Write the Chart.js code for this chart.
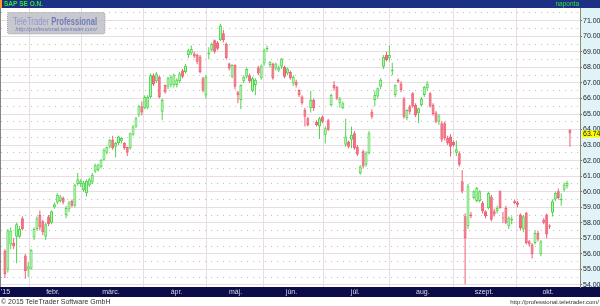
<!DOCTYPE html>
<html><head><meta charset="utf-8">
<script src="https://cdn.jsdelivr.net/npm/chart.js@4.4.1/dist/chart.umd.min.js"></script>
<style>html,body{margin:0;padding:0;background:#fff;overflow:hidden}canvas{display:block}</style>
</head><body>
<canvas id="c" width="600" height="306"></canvas>
<script>
// ---- data (trading-day index since 2 Jan 2015) ----
const firstDay = 4;
const open  = [56.20,55.00,56.60,56.70,57.10,57.10,58.30,55.90,55.00,55.05,57.05,57.60,58.50,58.10,57.10,58.40,58.00,
59.00,59.30,59.40,59.60,58.50,58.85,59.40,59.10,60.50,60.50,60.10,59.90,60.40,60.60,61.30,61.40,61.60,62.06,62.50,62.90,
63.34,62.90,63.13,63.25,63.13,62.87,62.80,63.66,64.20,64.95,65.50,65.37,65.40,66.10,67.50,67.10,67.40,65.15,66.86,66.75,66.85,
66.85,66.86,67.10,67.80,67.70,68.80,68.90,68.90,68.80,68.70,67.30,66.20,68.85,69.10,69.75,69.60,69.75,70.20,69.50,68.25,
67.40,68.15,66.40,65.90,67.10,67.40,67.50,66.50,66.86,68.00,67.30,68.25,69.15,68.15,68.25,67.93,67.80,68.04,68.04,67.60,
67.70,66.97,67.08,66.54,66.12,65.26,64.73,65.37,65.90,64.50,64.20,64.83,63.66,64.60,65.58,66.86,66.76,65.69,65.37,63.02,63.23,63.34,
63.77,62.90,61.20,62.60,61.74,62.48,65.15,65.90,66.12,66.76,68.04,68.80,68.57,67.75,66.22,67.20,66.97,66.00,64.73,65.50,66.33,65.58,65.05,65.58,
66.22,66.65,66.33,65.60,65.10,64.50,64.40,64.40,63.45,63.55,63.20,62.50,62.48,60.67,58.42,57.78,58.53,59.60,59.40,59.40,59.28,
58.74,58.96,59.70,58.74,58.74,60.03,58.35,58.96,57.78,58.15,59.38,59.30,58.53,57.57,58.64,56.82,56.60,56.70,57.35,55.97,58.20,58.53,
57.82,58.64,59.50,60.03,59.45,60.13,60.35,63.98];
const high  = [56.30,57.60,57.70,57.00,58.00,57.80,58.40,56.00,55.50,56.30,57.70,58.40,58.80,58.20,58.00,58.50,58.80,
59.30,59.90,59.80,59.70,59.10,59.40,59.50,60.50,61.20,60.80,60.70,60.80,60.90,61.20,61.80,61.80,62.10,62.80,62.90,63.40,
63.60,63.20,63.60,63.50,63.20,62.90,63.80,64.30,64.80,65.60,65.80,66.20,66.20,67.60,67.60,67.70,67.50,66.00,66.90,67.40,67.50,
67.60,67.30,67.70,67.90,68.20,69.20,69.40,69.00,68.90,68.80,67.40,67.50,69.30,69.60,69.80,69.70,70.80,70.40,69.60,68.30,
68.20,68.20,66.50,66.90,67.50,68.00,67.60,67.40,67.30,68.10,68.20,69.20,69.40,68.40,68.30,68.30,68.10,68.60,68.10,68.00,
67.80,67.50,67.20,66.60,66.20,65.40,64.80,66.50,66.00,64.60,64.80,64.90,64.20,64.70,66.30,67.10,66.80,66.10,65.80,64.70,63.30,64.20,
63.90,63.00,61.70,62.70,62.60,63.90,65.30,66.50,66.70,67.30,68.80,69.00,69.43,68.30,66.90,67.30,67.10,66.10,65.30,65.60,66.40,65.70,65.40,66.10,
66.80,67.10,66.40,65.70,65.20,65.00,64.55,64.50,63.60,63.70,63.30,63.30,62.60,61.40,58.60,60.50,58.70,60.10,60.30,60.10,59.40,
58.80,60.00,59.80,58.90,59.10,60.10,58.70,59.10,58.40,58.40,59.50,59.40,58.60,58.50,58.70,56.90,56.70,57.50,57.50,56.90,58.30,58.60,
57.90,59.50,60.00,60.20,59.90,60.60,60.70,64.00];
const low   = [54.45,54.80,56.30,56.30,55.40,57.00,57.50,54.40,54.50,55.00,56.90,57.50,57.50,57.20,56.90,57.80,57.90,
58.90,59.20,59.30,59.20,58.30,58.70,59.00,59.00,60.40,60.30,60.00,59.70,60.30,60.50,61.20,61.30,61.50,62.00,62.40,62.80,
62.70,62.20,63.00,63.10,62.70,62.30,62.70,63.60,64.10,64.80,64.90,65.30,65.30,66.00,66.80,67.00,66.00,64.60,66.30,66.60,66.70,
66.70,66.70,67.00,67.30,67.60,68.60,68.80,68.60,68.20,67.60,66.40,66.00,68.50,69.00,68.90,69.10,69.70,69.60,68.50,67.80,
67.30,66.60,65.70,65.30,67.00,67.30,67.00,66.40,66.20,67.50,67.20,68.10,69.00,68.00,67.20,67.80,67.70,67.90,67.30,67.50,
67.20,66.80,66.70,66.10,65.60,64.20,64.20,65.10,65.20,64.20,63.40,64.40,63.10,63.90,65.50,66.50,65.90,65.40,65.30,62.90,62.80,62.80,
62.70,62.30,61.10,61.50,61.60,62.40,64.70,65.50,66.00,66.60,67.90,68.40,68.40,67.50,66.10,67.00,66.40,64.70,64.60,65.00,65.40,64.80,64.40,65.50,
66.10,66.50,65.40,64.90,64.40,64.30,63.20,63.30,63.00,62.27,62.90,62.30,61.60,59.90,54.04,57.60,58.30,59.50,59.30,59.30,58.60,
58.30,58.85,58.10,58.40,58.60,58.90,58.00,57.90,57.60,57.90,59.20,59.00,57.50,57.40,56.60,56.50,55.70,56.60,56.80,55.85,57.90,57.00,
57.60,58.40,59.40,59.50,59.10,60.00,60.20,62.90];
const close = [54.70,57.50,57.50,56.50,57.90,57.60,57.60,54.90,55.20,56.25,57.60,58.30,57.70,57.40,57.90,57.90,58.75,
59.20,59.80,59.70,59.30,58.96,59.30,59.10,60.45,60.78,60.70,60.60,60.70,60.80,61.10,61.70,61.75,62.06,62.70,62.87,63.34,
62.80,63.13,63.56,63.45,62.80,62.50,63.77,64.20,64.73,65.50,65.10,66.10,66.10,67.50,66.90,67.60,66.10,65.90,66.40,67.30,67.40,
67.50,67.20,67.60,67.40,68.10,69.10,69.20,68.70,68.36,67.70,66.50,67.40,68.95,69.50,69.00,69.20,70.70,69.75,68.60,67.93,
68.15,66.75,66.20,66.86,67.40,67.90,67.10,67.30,67.20,67.60,68.10,69.10,69.25,68.36,67.30,68.25,68.00,68.57,67.40,67.93,
67.30,67.40,66.86,66.22,65.69,64.83,64.30,65.90,65.37,64.30,64.73,64.50,64.09,63.98,66.22,66.65,66.00,66.00,65.69,63.55,62.90,63.66,
62.80,62.40,61.63,61.63,62.48,63.77,64.83,66.22,66.65,67.20,68.68,68.47,68.80,67.85,66.86,67.08,66.54,64.83,65.26,65.15,65.48,64.94,65.37,66.00,
66.76,66.97,65.48,65.00,64.50,64.90,63.34,63.45,63.10,62.90,63.00,62.74,61.74,60.03,57.03,60.35,58.42,60.03,60.24,60.03,58.74,
58.42,59.92,58.20,58.53,58.96,58.96,58.28,58.00,58.32,58.25,59.28,59.17,57.67,58.42,56.70,56.60,55.97,57.35,56.93,56.82,58.00,57.25,
57.74,59.38,59.92,59.60,59.55,60.45,60.56,63.74];
const days = open.map((_, k) => firstDay + k);

// axis ticks / labels
const monthTicks  = [4.22, 20.5, 40.4, 62.9, 83.2, 102.4, 124.3, 147.5, 168.5, 190.5];
const monthLabels = ["'15", "febr.", "márc.", "ápr.", "máj.", "jún.", "júl.", "aug.", "szept.", "okt."];
const priceTicks  = [54,55,56,57,58,59,60,61,62,63,64,65,66,67,68,69,70,71];
const halfTicks   = [54.5,55.5,56.5,57.5,58.5,59.5,60.5,61.5,62.5,63.5,64.5,65.5,66.5,67.5,68.5,69.5,70.5,71.5];

const xMin = 2.68, xMax = 201.45, yMin = 53.871, yMax = 71.82;

const UP_LINE = '#4fd64f', UP_FILL = '#bdf2b6';
const DN_LINE = '#ee5f72', DN_FILL = '#f27485';
const isUp = k => close[k] >= open[k];

const decor = {
  id: 'decor',
  beforeDraw(chart) {
    const { ctx, chartArea: a } = chart;
    ctx.save();
    ctx.fillStyle = '#ffffff'; ctx.fillRect(0, 0, 600, 306);
    ctx.fillStyle = '#dff3f9'; ctx.fillRect(a.right, a.top, 600 - a.right, a.bottom - a.top);
    ctx.fillStyle = '#0c0c48'; ctx.fillRect(0, a.bottom, 600, 10);
    ctx.fillStyle = '#1c3184'; ctx.fillRect(0, 0, 600, a.top);
    ctx.fillStyle = '#ff9a1a'; ctx.fillRect(0, 0, 2, a.top);
    ctx.restore();
  },
  beforeDatasetsDraw(chart) {
    const { ctx } = chart;
    ctx.save();
    ctx.fillStyle = 'rgba(190,190,198,0.85)';
    ctx.beginPath();
    ctx.roundRect ? ctx.roundRect(7.5, 12.5, 97.5, 21.5, 2) : ctx.rect(7.5, 12.5, 97.5, 21.5);
    ctx.fill();
    ctx.strokeStyle = 'rgba(150,150,160,0.8)'; ctx.setLineDash([1, 1]); ctx.lineWidth = 1; ctx.stroke();
    ctx.setLineDash([]);
    // title text, squeezed to width
    const t1 = 'TeleTrader ', t2 = 'Professional';
    ctx.textBaseline = 'alphabetic';
    ctx.font = '10px "Liberation Sans"';
    const w1 = ctx.measureText(t1).width;
    ctx.font = 'bold 10px "Liberation Sans"';
    const w2 = ctx.measureText(t2).width;
    const sx = 84 / (w1 + w2);
    ctx.translate(13, 24.5); ctx.scale(sx, 1);
    ctx.font = '10px "Liberation Sans"'; ctx.fillStyle = '#8c9acb'; ctx.fillText(t1, 0, 0);
    ctx.font = 'bold 10px "Liberation Sans"'; ctx.fillStyle = '#6e7cba'; ctx.fillText(t2, w1, 0);
    ctx.setTransform(1, 0, 0, 1, 0, 0);
    ctx.font = 'italic 5.5px "Liberation Sans"'; ctx.fillStyle = '#6f7db8';
    ctx.textAlign = 'right'; ctx.fillText('http://professional.teletrader.com/', 97, 30.5);
    ctx.restore();
  },
  afterDraw(chart) {
    const { ctx, chartArea: a } = chart;
    ctx.save();
    // left border
    ctx.strokeStyle = '#858585'; ctx.lineWidth = 1;
    ctx.beginPath(); ctx.moveTo(0.5, a.top); ctx.lineTo(0.5, a.bottom); ctx.stroke();
    // header texts
    ctx.textBaseline = 'middle';
    ctx.font = 'bold 6.5px "Liberation Sans"'; ctx.fillStyle = '#31e431';
    ctx.textAlign = 'left'; ctx.fillText('SAP SE O.N.', 4, a.top / 2 + 0.5);
    ctx.font = '6.5px "Liberation Sans"';
    ctx.textAlign = 'right'; ctx.fillText('naponta', 579, a.top / 2 + 0.5);
    // last price tag
    const yS = chart.scales.y;
    const last = close[close.length - 1];
    const py = Math.round(yS.getPixelForValue(last));
    ctx.fillStyle = '#ffff00'; ctx.fillRect(a.right + 2, py - 3.5, 600 - a.right - 2, 7);
    ctx.fillStyle = '#111'; ctx.font = '7px "Liberation Sans"'; ctx.textAlign = 'left';
    ctx.fillText(last.toFixed(2), a.right + 3, py + 0.5);
    // footer
    ctx.fillStyle = '#333333'; ctx.font = '7px "Liberation Sans"'; ctx.textAlign = 'left';
    ctx.fillText('© 2015 TeleTrader Software GmbH', 1, 302);
    ctx.font = '6px "Liberation Sans"'; ctx.textAlign = 'right';
    ctx.fillText('http://professional.teletrader.com/', 599, 302);
    ctx.restore();
  }
};

new Chart(document.getElementById('c'), {
  type: 'bar',
  data: {
    datasets: [
      {
        label: 'wick',
        data: days.map((d, k) => ({ x: d, y: [low[k], high[k]] })),
        backgroundColor: c => isUp(c.dataIndex) ? UP_LINE : DN_LINE,
        borderWidth: 0, barThickness: 1, grouped: false, order: 2, inflateAmount: 0
      },
      {
        label: 'body',
        data: days.map((d, k) => ({ x: d, y: [open[k], close[k]] })),
        backgroundColor: c => isUp(c.dataIndex) ? UP_FILL : DN_FILL,
        borderColor: c => isUp(c.dataIndex) ? UP_LINE : DN_LINE,
        borderWidth: 1, borderSkipped: false, barThickness: 3, minBarLength: 1,
        grouped: false, order: 1, inflateAmount: 0
      }
    ]
  },
  options: {
    responsive: false, animation: false, events: [],
    layout: { padding: { top: 8, bottom: 9, left: 0, right: 0 } },
    plugins: { legend: { display: false }, tooltip: { enabled: false }, title: { display: false } },
    scales: {
      x: {
        type: 'linear', min: xMin, max: xMax, offset: false, position: 'bottom',
        afterBuildTicks: s => { s.ticks = monthTicks.map(v => ({ value: v })); },
        afterFit: s => { s.height = 10; },
        ticks: {
          autoSkip: false, maxRotation: 0, minRotation: 0, padding: 1,
          color: '#d8daee', font: { family: 'Liberation Sans', size: 7 },
          callback: (v, i) => monthLabels[i]
        },
        grid: { color: c => c.index === 0 ? 'rgba(0,0,0,0)' : '#e7dde2', lineWidth: 1, drawTicks: false },
        border: { display: false }
      },
      y: {
        position: 'right', min: yMin, max: yMax, weight: 1,
        afterBuildTicks: s => { s.ticks = priceTicks.map(v => ({ value: v })); },
        afterFit: s => { s.width = 20; },
        ticks: { padding: 1, color: '#1e1e1e', font: { family: 'Liberation Sans', size: 7 }, callback: v => Number(v).toFixed(2) },
        grid: { color: '#e7dde2', lineWidth: 1, drawTicks: true, tickLength: 2, tickColor: '#6d6d6d' },
        border: { display: true, color: '#8d8d6c', width: 1 }
      },
      yHalf: {
        position: 'right', min: yMin, max: yMax, weight: 0,
        afterBuildTicks: s => { s.ticks = halfTicks.map(v => ({ value: v })); },
        afterFit: s => { s.width = 0; },
        ticks: { display: false },
        grid: { color: '#bcbcbc', lineWidth: 1, drawTicks: false },
        border: { display: false, dash: [1, 5] }
      }
    }
  },
  plugins: [decor]
});
</script>
</body></html>
